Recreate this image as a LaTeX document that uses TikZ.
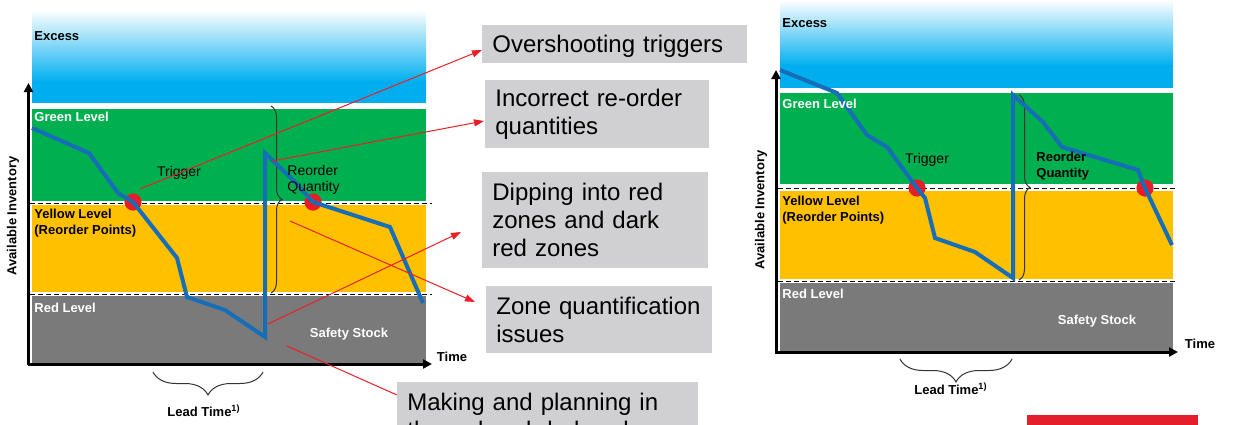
\documentclass[tikz,border=0pt]{standalone}
\usepackage{fontspec}
\setmainfont{Liberation Sans}
\usetikzlibrary{arrows.meta,decorations.pathreplacing}
\definecolor{exblue}{RGB}{0,174,239}
\definecolor{zgreen}{RGB}{0,176,80}
\definecolor{zyellow}{RGB}{255,192,0}
\definecolor{zgray}{RGB}{122,122,122}
\definecolor{invblue}{RGB}{22,110,184}
\definecolor{dotred}{RGB}{234,28,38}
\definecolor{callred}{RGB}{235,30,40}
\definecolor{boxgray}{RGB}{208,208,210}
\definecolor{barred}{RGB}{228,30,43}
\begin{document}
\begin{tikzpicture}[x=0.5pt,y=-0.5pt,
  lbl/.style={font=\fontsize{6.5}{8}\selectfont\bfseries, inner sep=0pt, align=left},
  wlbl/.style={lbl, text=white},
  reg/.style={font=\fontsize{7}{7.8}\selectfont, inner sep=0pt, align=left},
  dashwhite/.style={white, line width=1.2pt},
  dashblack/.style={black, line width=0.5pt, dash pattern=on 2.5pt off 1.5pt},
  axis/.style={black, line width=1.5pt, -{Triangle[length=4.5pt,width=4.5pt]}},
  inv/.style={invblue, line width=2pt},
  rdot/.style={fill=dotred},
  bracestyle/.style={black!80, line width=0.5pt, decorate},
  callout/.style={fill=boxgray, inner xsep=5pt, inner ysep=0pt, align=left,
    font=\fontsize{12}{14}\selectfont, anchor=north west},
  callline/.style={draw=callred, line width=0.5pt, -{Triangle[length=5pt,width=3.5pt]}},
  plainline/.style={draw=callred, line width=0.5pt}
]
\useasboundingbox (0,0) rectangle (1233,424);
\clip (0,0) rectangle (1233,424);

% ---------------- left chart ----------------
\shade[top color=white, bottom color=exblue] (32,10) rectangle (426,82);
\fill[exblue] (32,81) rectangle (426,103);
\fill[zgreen] (32,109) rectangle (426,201);
\fill[zyellow] (32,205) rectangle (426,292);
\fill[zgray] (32,296) rectangle (426,363);
\draw[dashwhite] (30,203) -- (432,203);
\draw[dashblack] (30,203) -- (432,203);
\draw[dashwhite] (30,294) -- (432,294);
\draw[dashblack] (30,294) -- (432,294);
\draw[axis] (28.5,364.5) -- (28.5,83);
\draw[axis] (27.5,364) -- (432,364);

\draw[bracestyle, decoration={brace, amplitude=5.5pt}] (271,106) -- (271,293);
\draw[bracestyle, decoration={brace, amplitude=11.5pt}] (263,372) -- (153,372);

\fill[rdot] (133,202) circle (4.3pt);
\fill[rdot] (313,202) circle (4.3pt);
\draw[inv] (32,128) -- (89,153) -- (118,193) -- (133,202) -- (177,258) -- (187,297)
  -- (225,310) -- (265,337) -- (265,153) -- (295,182) -- (313,202) -- (390,227) -- (423,303);

\node[lbl, anchor=west] (exL) at (34,36) {Excess};
\node[wlbl, anchor=west] (grL) at (34,117) {Green Level};
\node[lbl, anchor=west] (yeL) at (34,223) {Yellow Level\\(Reorder Points)};
\node[wlbl, anchor=west] (reL) at (34,308) {Red Level};
\node[wlbl] (ssL) at (349,334) {Safety Stock};
\node[reg] (trL) at (179,173) {Trigger};
\node[reg, anchor=west] (rqL) at (287,180) {Reorder\\Quantity};
\node[lbl] (tiL) at (452,357) {Time};
\node[lbl] (ltL) at (204,411) {Lead Time\textsuperscript{1)}};
\node[lbl, rotate=90] (aiL) at (13,216) {Available Inventory};

% ---------------- right chart ----------------
\shade[top color=white, bottom color=exblue] (780,0) rectangle (1173,66);
\fill[exblue] (780,65) rectangle (1173,88);
\fill[zgreen] (780,93) rectangle (1173,184);
\fill[zyellow] (780,191) rectangle (1173,279);
\fill[zgray] (780,283) rectangle (1173,351);
\draw[dashwhite] (778,188) -- (1178,188);
\draw[dashblack] (778,188) -- (1178,188);
\draw[dashwhite] (778,281) -- (1178,281);
\draw[dashblack] (778,281) -- (1178,281);
\draw[axis] (776,352.5) -- (776,70);
\draw[axis] (775,352) -- (1178,352);

\draw[bracestyle, decoration={brace, amplitude=5.5pt}] (1019,95) -- (1019,280);
\draw[bracestyle, decoration={brace, amplitude=11.5pt}] (1012,359) -- (900,359);

\fill[rdot] (917,188) circle (4.3pt);
\fill[rdot] (1145,188) circle (4.3pt);
\draw[inv] (780,70) -- (837,93) -- (867,135) -- (887,147) -- (917,188) -- (925,198)
  -- (935,238) -- (975,252) -- (1013,278) -- (1013,95) -- (1043,122) -- (1062,147)
  -- (1138,170) -- (1145,188) -- (1172,245);

\node[lbl, anchor=west] (exR) at (782,23) {Excess};
\node[wlbl, anchor=west] (grR) at (782,104) {Green Level};
\node[lbl, anchor=west] (yeR) at (782,210) {Yellow Level\\(Reorder Points)};
\node[wlbl, anchor=west] (reR) at (782,294) {Red Level};
\node[wlbl] (ssR) at (1097,321) {Safety Stock};
\node[reg] (trR) at (927,160) {Trigger};
\node[lbl, anchor=west] (rqR) at (1036,166) {Reorder\\Quantity};
\node[lbl] (tiR) at (1200,344) {Time};
\node[lbl] (ltR) at (951,389) {Lead Time\textsuperscript{1)}};
\node[lbl, rotate=90] (aiR) at (761,210) {Available Inventory};

% ---------------- callouts ----------------
\node[callout, text width=122.5pt, minimum height=19pt, text depth=0.5pt] (b1) at (482,25) {Overshooting triggers};
\node[callout, text width=102pt, minimum height=34pt] (b2) at (485,80) {Incorrect re-order\\quantities};
\node[callout, text width=103pt, minimum height=48pt] (b3) at (482,172) {Dipping into red\\zones and dark\\red zones};
\node[callout, text width=103pt, minimum height=33.5pt] (b4) at (486,286) {Zone quantification\\issues};
\node[callout, text width=140.5pt, minimum height=34pt] (b5) at (397,382) {Making and planning in\\\mbox{the red and dark red zones}};

\coordinate (s1) at (140,189); \coordinate (t1) at (482,50);
\coordinate (s2) at (272,161); \coordinate (t2) at (484,121);
\coordinate (s3) at (268,324); \coordinate (t3) at (461,232);
\coordinate (s4) at (290,221); \coordinate (t4) at (475,302);
\coordinate (s5) at (287,346); \coordinate (t5) at (397,395);
\draw[callline] (s1) -- (t1);
\draw[callline] (s2) -- (t2);
\draw[callline] (s3) -- (t3);
\draw[callline] (s4) -- (t4);
\draw[plainline] (s5) -- (t5);

\fill[barred] (1027,415) rectangle (1198,430);
\end{tikzpicture}
\end{document}
